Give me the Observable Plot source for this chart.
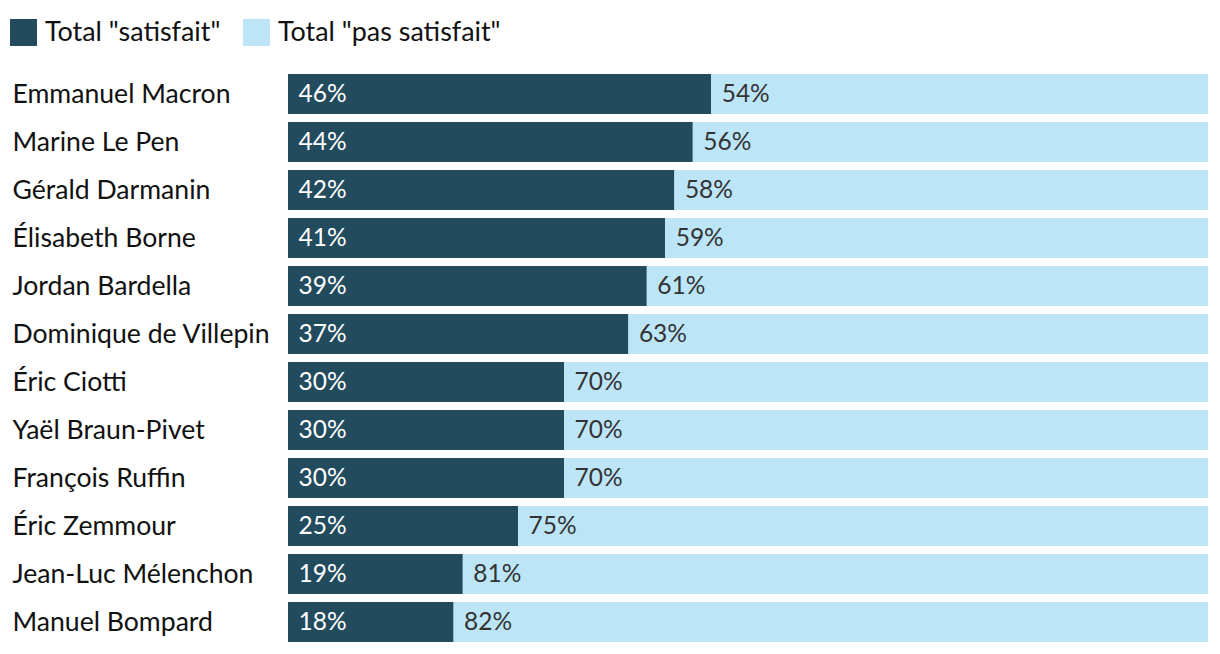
<!DOCTYPE html>
<html>
<head>
<meta charset="utf-8">
<script src="https://cdn.jsdelivr.net/npm/d3@7"></script>
<script src="https://cdn.jsdelivr.net/npm/@observablehq/plot@0.6"></script>
<style>
  html, body { margin: 0; padding: 0; background: #fff; }
  body { width: 1220px; height: 654px; overflow: hidden; font-family: "Source Sans Pro", Lato, sans-serif; }
  #legend { height: 60px; position: relative; }
  .sw { position: absolute; top: 19px; width: 27px; height: 27px; }
  .lt { position: absolute; top: 14px; font-size: 26.9px; color: #111; line-height: 34px; white-space: nowrap; }
</style>
</head>
<body>
<div id="legend"></div>
<div id="chart"></div>
<script>
const names = ["Emmanuel Macron","Marine Le Pen","Gérald Darmanin","Élisabeth Borne","Jordan Bardella","Dominique de Villepin","Éric Ciotti","Yaël Braun-Pivet","François Ruffin","Éric Zemmour","Jean-Luc Mélenchon","Manuel Bompard"];
const satisfait = [46,44,42,41,39,37,30,30,30,25,19,18];
const pasSatisfait = [54,56,58,59,61,63,70,70,70,75,81,82];
const seriesLabels = ['Total "satisfait"', 'Total "pas satisfait"'];
const colors = ["#234b5e", "#bde5f8"];

const rows = names.map((n, i) => ({name: n, s: satisfait[i], p: pasSatisfait[i]}));

// legend
const legend = document.getElementById("legend");
const legendX = [[10, 45], [243, 278]];
seriesLabels.forEach((lab, i) => {
  const sw = document.createElement("div");
  sw.className = "sw"; sw.style.left = legendX[i][0] + "px"; sw.style.background = colors[i];
  legend.appendChild(sw);
  const t = document.createElement("div");
  t.className = "lt"; t.style.left = legendX[i][1] + "px"; t.textContent = lab;
  legend.appendChild(t);
});

const chart = Plot.plot({
  width: 1220,
  height: 594,
  marginTop: 10,
  marginBottom: 8,
  marginLeft: 288,
  marginRight: 12,
  style: {fontFamily: '"Source Sans Pro", Lato, sans-serif', background: "#fff"},
  x: {domain: [0, 100], axis: null},
  y: {domain: names, paddingInner: 1/6, paddingOuter: 1/12, align: 0.5, label: null},
  marks: [
    Plot.barX(rows, {y: "name", x1: 0, x2: "s", fill: colors[0]}),
    Plot.barX(rows, {y: "name", x1: "s", x2: d => d.s + d.p, fill: colors[1]}),
    Plot.axisY({tickSize: 0, tickPadding: 0, textAnchor: "start", dx: -276, fontSize: 26.6, fill: "#111", label: null}),
    Plot.text(rows, {y: "name", x: 0, text: d => d.s + "%", textAnchor: "start", dx: 10, fill: "#fff", fontSize: 24.5}),
    Plot.text(rows, {y: "name", x: "s", text: d => d.p + "%", textAnchor: "start", dx: 10, fill: "#333", fontSize: 24.5})
  ]
});
document.getElementById("chart").appendChild(chart);
</script>
</body>
</html>
